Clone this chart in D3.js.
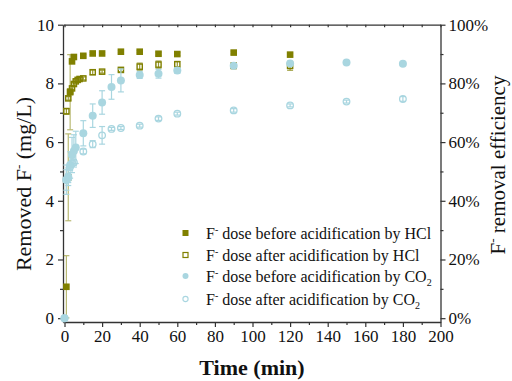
<!DOCTYPE html>
<html>
<head>
<meta charset="utf-8">
<script src="https://cdn.jsdelivr.net/npm/d3@7"></script>
<style>
  html, body { margin: 0; padding: 0; background: #fff; }
  svg { display: block; font-family: "Liberation Serif", "Times New Roman", serif; }
</style>
</head>
<body>
<svg id="chart" width="512" height="381"></svg>
<script>
// Removed fluoride vs. time (mean ± error), four dosing conditions
const hclBeforeTime = [1, 2, 3, 4, 5, 10, 15, 20, 30, 40, 50, 60, 90, 120];
const hclBeforeValue = [1.07, 4.8, 7.7, 8.75, 8.9, 8.94, 9.02, 9.02, 9.08, 9.08, 9.01, 9.0, 9.05, 8.98];
const hclBeforeErr = [1.06, 1.48, 1.28, 0.05, 0.05, 0.04, 0.04, 0.04, 0.04, 0.04, 0.05, 0.05, 0.05, 0.05];

const hclAfterTime = [1, 2, 3, 4, 5, 6, 7, 8, 10, 15, 20, 30, 40, 50, 60, 90, 120];
const hclAfterValue = [7.05, 7.49, 7.72, 7.83, 7.98, 8.07, 8.12, 8.15, 8.17, 8.38, 8.4, 8.46, 8.57, 8.64, 8.65, 8.6, 8.6];
const hclAfterErr = [0.1, 0.06, 0.06, 0.05, 0.05, 0.05, 0.05, 0.05, 0.05, 0.08, 0.05, 0.06, 0.12, 0.12, 0.1, 0.1, 0.15];

const co2BeforeTime = [0, 1, 2, 3, 4, 5, 6, 10, 15, 20, 25, 30, 40, 50, 60, 90, 120, 150, 180];
const co2BeforeValue = [0, 4.72, 4.82, 5.22, 5.56, 5.7, 5.82, 6.3, 6.9, 7.35, 7.88, 8.1, 8.29, 8.33, 8.44, 8.6, 8.68, 8.71, 8.67];
const co2BeforeErr = [0, 0.5, 0.3, 0.45, 0.6, 0.55, 0.55, 0.43, 0.4, 0.4, 0.42, 0.39, 0.12, 0.15, 0.1, 0.05, 0.05, 0.04, 0.04];

const co2AfterTime = [0, 1, 2, 3, 4, 5, 10, 15, 20, 25, 30, 40, 50, 60, 90, 120, 150, 180];
const co2AfterValue = [0, 4.71, 4.77, 5.16, 5.28, 5.31, 5.68, 5.93, 6.23, 6.45, 6.48, 6.56, 6.8, 6.97, 7.08, 7.25, 7.38, 7.47];
const co2AfterErr = [0, 0.35, 0.15, 0.12, 0.1, 0.1, 0.08, 0.12, 0.3, 0.05, 0.05, 0.05, 0.06, 0.05, 0.06, 0.05, 0.05, 0.08];

const xTicks = [0, 20, 40, 60, 80, 100, 120, 140, 160, 180, 200];
const yTicks = [0, 2, 4, 6, 8, 10];
const pctTicks = [0, 20, 40, 60, 80, 100];

const OLIVE = "#808000";
const BLUE = "#a9d6e0";
const AXIS = "#333";

const svg = d3.select("#chart");

const x = d3.scaleLinear().domain([-0.8, 200]).range([63, 440.5]);
const y = d3.scaleLinear().domain([-0.13, 10]).range([322, 24.7]);
const yPct = d3.scaleLinear().domain([-1.3, 100]).range([322, 24.7]);

// axes
const fontTick = "17px";
function styleAxis(g) {
  g.selectAll("path.domain").attr("stroke", AXIS).attr("stroke-width", 1.3);
  g.selectAll(".tick line").attr("stroke", AXIS).attr("stroke-width", 1.2);
  g.selectAll(".tick text").attr("fill", "#111").style("font-size", fontTick)
    .style("font-family", "'Liberation Serif', serif");
}
function minorTicks(g) {
  g.select("path.domain").remove();
  g.selectAll("line").attr("stroke", AXIS).attr("stroke-width", 1.2);
}

const axisBottomG = svg.append("g").attr("transform", `translate(0,${y.range()[0]})`)
  .call(d3.axisBottom(x).tickValues(xTicks).tickSize(5).tickSizeOuter(0).tickPadding(3));
styleAxis(axisBottomG);
svg.append("g").attr("transform", `translate(0,${y.range()[0]})`)
  .call(d3.axisBottom(x).tickValues(d3.range(10, 200, 20)).tickSize(3).tickFormat("").tickSizeOuter(0))
  .call(minorTicks);

const axisTopG = svg.append("g").attr("transform", `translate(0,${y.range()[1]})`)
  .call(d3.axisTop(x).tickValues(d3.range(0, 201, 10)).tickSize(-2.5).tickFormat("").tickSizeOuter(0));
styleAxis(axisTopG);

const axisLeftG = svg.append("g").attr("transform", `translate(${x.range()[0]},0)`)
  .call(d3.axisLeft(y).tickValues(yTicks).tickSize(5).tickSizeOuter(0).tickPadding(4));
styleAxis(axisLeftG);
svg.append("g").attr("transform", `translate(${x.range()[0]},0)`)
  .call(d3.axisLeft(y).tickValues([1, 3, 5, 7, 9]).tickSize(3).tickFormat("").tickSizeOuter(0))
  .call(minorTicks);

const axisRightG = svg.append("g").attr("transform", `translate(${x.range()[1]},0)`)
  .call(d3.axisRight(yPct).tickValues(pctTicks).tickSize(5).tickSizeOuter(0).tickPadding(3).tickFormat(d => d + "%"));
styleAxis(axisRightG);
svg.append("g").attr("transform", `translate(${x.range()[1]},0)`)
  .call(d3.axisRight(yPct).tickValues([10, 30, 50, 70, 90]).tickSize(3).tickFormat("").tickSizeOuter(0))
  .call(minorTicks);

// series drawing
function rows(t, v, e) { return t.map((d, i) => ({ t: d, v: v[i], e: e[i] })); }

function errorBars(data, color, opacity) {
  const g = svg.append("g").attr("stroke", color).attr("stroke-width", 1.2).attr("opacity", opacity);
  data.filter(d => d.e > 0).forEach(d => {
    const cx = x(d.t), y1 = y(d.v - d.e), y2 = y(d.v + d.e);
    g.append("line").attr("x1", cx).attr("x2", cx).attr("y1", y1).attr("y2", y2);
    g.append("line").attr("x1", cx - 3).attr("x2", cx + 3).attr("y1", y1).attr("y2", y1);
    g.append("line").attr("x1", cx - 3).attr("x2", cx + 3).attr("y1", y2).attr("y2", y2);
  });
}

const hclBefore = rows(hclBeforeTime, hclBeforeValue, hclBeforeErr);
const hclAfter = rows(hclAfterTime, hclAfterValue, hclAfterErr);
const co2Before = rows(co2BeforeTime, co2BeforeValue, co2BeforeErr);
const co2After = rows(co2AfterTime, co2AfterValue, co2AfterErr);

const S = 6.6;
errorBars(hclBefore, OLIVE, 0.55);
svg.append("g").selectAll("rect").data(hclBefore).join("rect")
  .attr("x", d => x(d.t) - S / 2).attr("y", d => y(d.v) - S / 2)
  .attr("width", S).attr("height", S).attr("fill", OLIVE);

errorBars(hclAfter, OLIVE, 0.8);
svg.append("g").selectAll("rect").data(hclAfter).join("rect")
  .attr("x", d => x(d.t) - (S - 1.4) / 2).attr("y", d => y(d.v) - (S - 1.4) / 2)
  .attr("width", S - 1.4).attr("height", S - 1.4)
  .attr("fill", "none").attr("stroke", OLIVE).attr("stroke-width", 1.4);

errorBars(co2Before, BLUE, 1);
svg.append("g").selectAll("circle").data(co2Before).join("circle")
  .attr("cx", d => x(d.t)).attr("cy", d => y(d.v)).attr("r", 4).attr("fill", BLUE);

errorBars(co2After, BLUE, 1);
svg.append("g").selectAll("circle").data(co2After).join("circle")
  .attr("cx", d => x(d.t)).attr("cy", d => y(d.v)).attr("r", 3.3)
  .attr("fill", "none").attr("stroke", BLUE).attr("stroke-width", 1.3);

// legend
const legendItems = [
  { kind: "sq", main: " dose before acidification by HCl", sub: "" },
  { kind: "sqo", main: " dose after acidification by HCl", sub: "" },
  { kind: "ci", main: " dose before acidification by CO", sub: "2" },
  { kind: "cio", main: " dose after acidification by CO", sub: "2" }
];
const legendY = [233, 255, 276, 299];
const lg = svg.append("g");
legendItems.forEach((it, i) => {
  const cy = legendY[i], cx = 185.5;
  if (it.kind === "sq") lg.append("rect").attr("x", cx - 3).attr("y", cy - 3).attr("width", 6).attr("height", 6).attr("fill", OLIVE);
  if (it.kind === "sqo") lg.append("rect").attr("x", cx - 2.5).attr("y", cy - 2.5).attr("width", 5).attr("height", 5).attr("fill", "none").attr("stroke", OLIVE).attr("stroke-width", 1.2);
  if (it.kind === "ci") lg.append("circle").attr("cx", cx).attr("cy", cy).attr("r", 3).attr("fill", BLUE);
  if (it.kind === "cio") lg.append("circle").attr("cx", cx).attr("cy", cy).attr("r", 2.6).attr("fill", "none").attr("stroke", BLUE).attr("stroke-width", 1.1);
  const t = lg.append("text").attr("x", 206).attr("y", cy + 5.5).style("font-size", "16px").attr("fill", "#111");
  t.append("tspan").text("F");
  t.append("tspan").text("-").style("font-size", "10px").attr("dy", -6);
  t.append("tspan").text(it.main).attr("dy", 6);
  if (it.sub) t.append("tspan").text(it.sub).style("font-size", "10px").attr("dy", 4);
});

// axis titles
const yt = svg.append("text").attr("transform", "translate(31,184) rotate(-90)")
  .attr("text-anchor", "middle").style("font-size", "22px").attr("fill", "#111");
yt.append("tspan").text("Removed F");
yt.append("tspan").text("-").style("font-size", "13px").attr("dy", -8);
yt.append("tspan").text(" (mg/L)").attr("dy", 8);

const rt = svg.append("text").attr("transform", "translate(505,165) rotate(-90)")
  .attr("text-anchor", "middle").style("font-size", "21px").attr("fill", "#111");
rt.append("tspan").text("F");
rt.append("tspan").text("-").style("font-size", "13px").attr("dy", -8);
rt.append("tspan").text(" removal efficiency").attr("dy", 8);

svg.append("text").attr("x", 252).attr("y", 375).attr("text-anchor", "middle")
  .style("font-size", "22px").style("font-weight", "bold").attr("fill", "#111").text("Time (min)");
</script>
</body>
</html>
